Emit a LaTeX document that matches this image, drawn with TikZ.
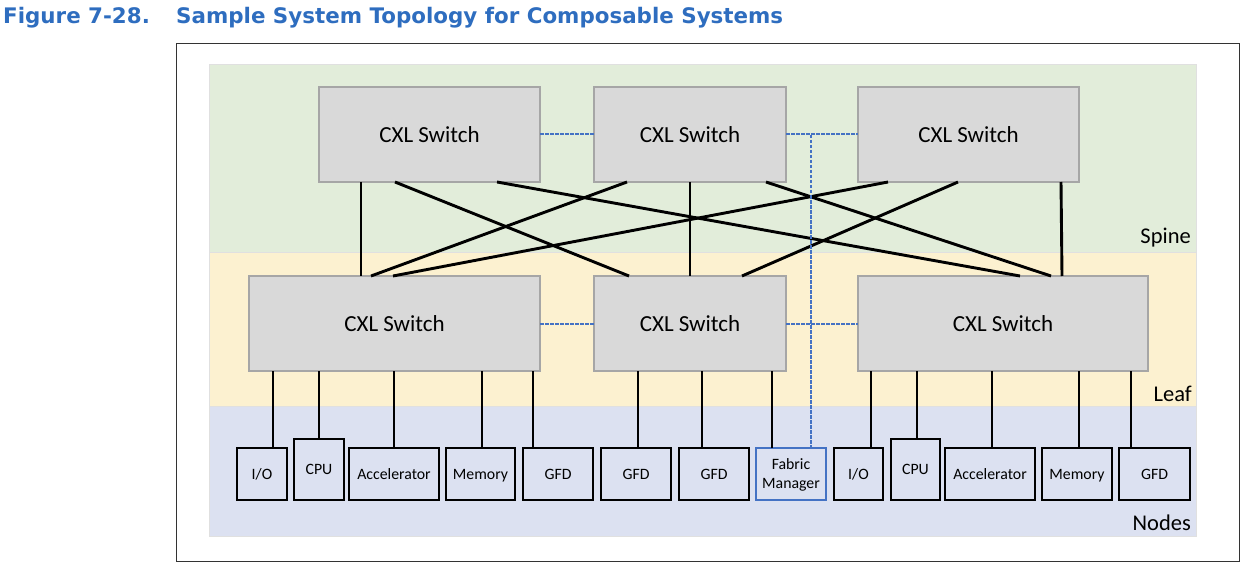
\documentclass[tikz,border=0pt]{standalone}
\usepackage{fontspec}
\setmainfont{Carlito}
\newfontfamily\titlefont{DejaVu Sans}
\definecolor{spinegreen}{HTML}{E2EDDA}
\definecolor{leafyellow}{HTML}{FCF1D0}
\definecolor{nodesblue}{HTML}{DCE1F1}
\definecolor{swgray}{HTML}{D9D9D9}
\definecolor{swborder}{HTML}{A6A6A6}
\definecolor{mblue}{HTML}{4472C4}
\definecolor{titleblue}{HTML}{2E6DBF}
\begin{document}
\begin{tikzpicture}[x=1pt,y=-1pt,
  band/.style={rectangle,draw=black!12,line width=0.8pt,anchor=north west,inner sep=0pt,outer sep=0pt},
  switchbox/.style={rectangle,fill=swgray,draw=swborder,line width=1.2pt,anchor=north west,inner sep=0pt,outer sep=0pt,font=\fontsize{23}{27}\selectfont},
  nodebox/.style={rectangle,draw=black,line width=2pt,fill=nodesblue,anchor=north west,inner sep=0pt,outer sep=0pt,font=\fontsize{15.8}{19}\selectfont,align=center,minimum height=52pt,text depth=0pt},
  link/.style={line width=2.9pt,black},
  mgmt/.style={draw=mblue,line width=2pt,dash pattern=on 3.5pt off 1.5pt},
  layerlabel/.style={anchor=base east,font=\fontsize{22.5}{26}\selectfont,inner sep=0pt}]
\useasboundingbox (0,0) rectangle (1260,580);

% title
\node[anchor=base west,inner sep=0pt,text=titleblue,font=\titlefont\bfseries\fontsize{21.4}{24}\selectfont] (title) at (3,24)
  {\makebox[173pt][l]{Figure 7-28.}Sample System Topology for Composable Systems};

% frame
\node[rectangle,draw=black!80,line width=1.4pt,anchor=north west,minimum width=1063.5pt,minimum height=518pt,inner sep=0pt] (frame) at (175.5,43) {};

% bands
\node[band,fill=spinegreen,minimum width=987pt,minimum height=188pt] (spine) at (209,64) {};
\node[band,fill=leafyellow,minimum width=987pt,minimum height=154pt] (leaf) at (209,252) {};
\node[band,fill=nodesblue,minimum width=987pt,minimum height=130pt] (nodes) at (209,406) {};
\node[layerlabel] (lspine) at (1191,243) {Spine};
\node[layerlabel] (lleaf) at (1192,401) {Leaf};
\node[layerlabel] (lnodes) at (1191,530) {Nodes};

% switches
\node[switchbox,minimum width=221pt,minimum height=95pt] (s1) at (319,87) {CXL Switch};
\node[switchbox,minimum width=192pt,minimum height=95pt] (s2) at (594,87) {CXL Switch};
\node[switchbox,minimum width=221pt,minimum height=95pt] (s3) at (858,87) {CXL Switch};
\node[switchbox,minimum width=291pt,minimum height=95pt] (l1) at (249,276) {CXL Switch};
\node[switchbox,minimum width=192pt,minimum height=95pt] (l2) at (594,276) {CXL Switch};
\node[switchbox,minimum width=290pt,minimum height=95pt] (l3) at (858,276) {CXL Switch};

% end nodes
\node[nodebox,minimum width=50pt] (io1) at (237,448) {I/O};
\node[nodebox,minimum width=50pt,minimum height=61pt] (cpu1) at (294,439) {CPU};
\node[nodebox,minimum width=90pt] (acc1) at (349,448) {Accelerator};
\node[nodebox,minimum width=69pt] (mem1) at (446,448) {Memory};
\node[nodebox,minimum width=70pt] (gfd1) at (523,448) {GFD};
\node[nodebox,minimum width=70pt] (gfd2) at (601,448) {GFD};
\node[nodebox,minimum width=70pt] (gfd3) at (679,448) {GFD};
\node[nodebox,minimum width=70pt,draw=mblue,line width=1.8pt] (fm) at (756,448) {Fabric\\Manager};
\node[nodebox,minimum width=49pt] (io2) at (834,448) {I/O};
\node[nodebox,minimum width=49pt,minimum height=61pt] (cpu2) at (891,439) {CPU};
\node[nodebox,minimum width=90pt] (acc2) at (945,448) {Accelerator};
\node[nodebox,minimum width=70pt] (mem2) at (1042,448) {Memory};
\node[nodebox,minimum width=71pt] (gfd4) at (1119,448) {GFD};

% spine-leaf links
\draw[link] (s1.south -| 361,0) -- (l1.north -| 361,0);
\draw[link] (s1.south -| 395,0) -- (l2.north -| 629,0);
\draw[link] (s1.south -| 497,0) -- (l3.north -| 1020,0);
\draw[link] (s2.south -| 627,0) -- (l1.north -| 371,0);
\draw[link] (s2.south -| 690,0) -- (l2.north -| 690,0);
\draw[link] (s2.south -| 766,0) -- (l3.north -| 1051,0);
\draw[link] (s3.south -| 888,0) -- (l1.north -| 393,0);
\draw[link] (s3.south -| 958,0) -- (l2.north -| 742,0);
\draw[link] (s3.south -| 1061,0) -- (l3.north -| 1062,0);

% leaf-node links
\draw[link] (l1.south -| 273,0) -- (io1.north -| 273,0);
\draw[link] (l1.south -| 319,0) -- (cpu1.north -| 319,0);
\draw[link] (l1.south -| 394,0) -- (acc1.north -| 394,0);
\draw[link] (l1.south -| 482,0) -- (mem1.north -| 482,0);
\draw[link] (l1.south -| 533,0) -- (gfd1.north -| 533,0);
\draw[link] (l2.south -| 638,0) -- (gfd2.north -| 638,0);
\draw[link] (l2.south -| 702,0) -- (gfd3.north -| 702,0);
\draw[link] (l2.south -| 772,0) -- (fm.north -| 772,0);
\draw[link] (l3.south -| 871,0) -- (io2.north -| 871,0);
\draw[link] (l3.south -| 917,0) -- (cpu2.north -| 917,0);
\draw[link] (l3.south -| 992,0) -- (acc2.north -| 992,0);
\draw[link] (l3.south -| 1079,0) -- (mem2.north -| 1079,0);
\draw[link] (l3.south -| 1131,0) -- (gfd4.north -| 1131,0);

% management (dashed) links
\draw[mgmt] (s1.east) -- (s2.west);
\draw[mgmt] (s2.east) -- (s3.west);
\draw[mgmt] (l1.east) -- (l2.west);
\draw[mgmt] (l2.east) -- (l3.west);
\coordinate (fmj) at (811,135);
\draw[mgmt] (fmj) -- (fm.north -| fmj);
\end{tikzpicture}
\end{document}
